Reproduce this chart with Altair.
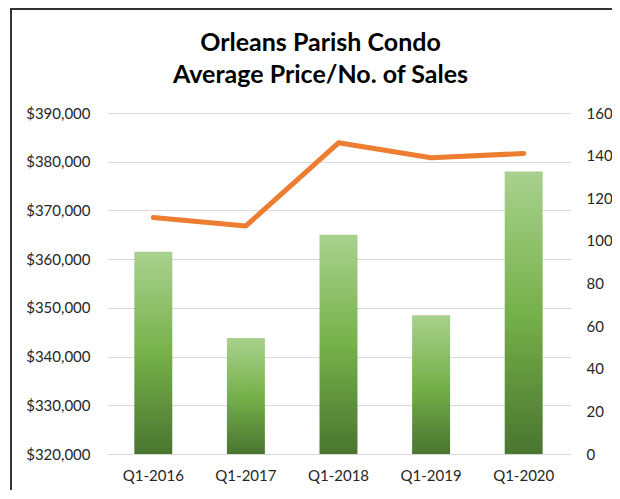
import altair as alt
import pandas as pd

quarters = ["Q1-2016", "Q1-2017", "Q1-2018", "Q1-2019", "Q1-2020"]
avg_price = [361500, 343800, 365000, 348500, 378000]
num_sales = [111, 107, 146, 139, 141]

df = pd.DataFrame({"quarter": quarters, "price": avg_price, "sales": num_sales})

FONT = "Lato"
x_enc = alt.X("quarter:N", sort=quarters, title=None,
              scale=alt.Scale(paddingInner=0.59, paddingOuter=0.295),
              axis=alt.Axis(labelAngle=0, labelPadding=14, domain=True,
                            domainColor="#d9d9d9", ticks=False))

grad = alt.Gradient(gradient="linear", x1=0, x2=0, y1=0, y2=1,
                    stops=[alt.GradientStop(offset=0, color="#a9d18e"),
                           alt.GradientStop(offset=0.5, color="#76b14a"),
                           alt.GradientStop(offset=1, color="#4a7530")])

bars = alt.Chart(df).mark_bar(color=grad).encode(
    x=x_enc,
    y=alt.Y("price:Q", title=None,
            scale=alt.Scale(domain=[320000, 390000], zero=False, nice=False),
            axis=alt.Axis(orient="left", format="$,.0f", values=list(range(320000, 390001, 10000)),
                          grid=True, gridColor="#d9d9d9", domain=False, ticks=False,
                          labelPadding=17)),
    y2=alt.datum(320000),
)

line = alt.Chart(df).mark_line(color="#ed7d31", strokeWidth=5, strokeCap="round",
                               strokeJoin="round").encode(
    x=x_enc,
    y=alt.Y("sales:Q", title=None,
            scale=alt.Scale(domain=[0, 160], nice=False),
            axis=alt.Axis(orient="right", values=list(range(0, 161, 20)),
                          grid=False, domain=False, ticks=False, labelPadding=16)),
)

frame_left = alt.Chart(df).mark_rule(color="#333333", strokeWidth=2).encode(
    x=alt.value(-96), y=alt.value(-104), y2=alt.value(460))
frame_top = alt.Chart(df).mark_rule(color="#333333", strokeWidth=2).encode(
    x=alt.value(-97), x2=alt.value(530), y=alt.value(-104))

chart = alt.layer(bars, line, frame_left, frame_top).resolve_scale(y="independent").properties(
    width=463, height=341, background="white",
    padding={"left": 99, "top": 105, "right": 42, "bottom": 36},
    autosize=alt.AutoSizeParams(type="none"),
    title=alt.TitleParams(["Orleans Parish Condo", "Average Price/No. of Sales"],
                          font=FONT, fontSize=25, fontWeight="bold", color="#000000",
                          anchor="middle", dx=-18, lineHeight=32, offset=0, dy=80),
).configure_view(stroke=None).configure_axis(
    labelFont=FONT, labelFontSize=15, labelColor="#262626"
)

chart.save("out.html", embed_options={"renderer": "svg", "actions": False})
